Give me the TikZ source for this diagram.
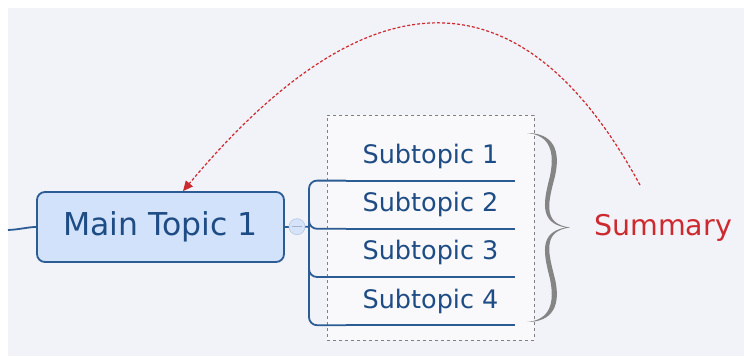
\documentclass[tikz,border=0pt]{standalone}
\usepackage{fontspec}
\setmainfont{DejaVu Sans}
\usetikzlibrary{arrows.meta,positioning,calc}
\definecolor{Canvas}{HTML}{F2F3F8}
\definecolor{Navy}{HTML}{2B5C93}
\definecolor{Ink}{HTML}{1E4C84}
\definecolor{TopicFill}{HTML}{D3E2FB}
\definecolor{KnobFill}{HTML}{D6E3F8}
\definecolor{Brace}{HTML}{858585}
\definecolor{Note}{HTML}{CC2A2E}
\tikzset{
 topic/.style={draw=Navy,fill=TopicFill,line width=1.8pt,rounded corners=8pt,minimum width=247pt,minimum height=70pt,inner sep=0pt,text=Ink,font=\fontsize{31.5}{36}\selectfont},
 subtopic/.style={text=Ink,font=\fontsize{25.5}{30}\selectfont,minimum width=169pt,minimum height=47.8pt,inner sep=0pt},
 knob/.style={circle,fill=KnobFill,draw=KnobFill!80!Navy,line width=0.6pt,minimum size=16pt,inner sep=0pt},
 branch/.style={draw=Navy,line width=1.8pt,rounded corners=8pt},
 uline/.style={draw=Navy,line width=1.8pt},
 group/.style={draw=gray,dashed,fill=white,fill opacity=0.55,line width=0.8pt,minimum width=207pt,minimum height=225pt,inner sep=0pt},
 note/.style={text=Note,font=\fontsize{28.5}{32}\selectfont,inner sep=0pt},
 relarrow/.style={-{Triangle[length=10pt,width=9pt]},draw=Note,densely dashed,line width=1.2pt}
}
\begin{document}
\begin{tikzpicture}[x=1pt,y=-1pt,node distance=0pt]
\useasboundingbox (0,0) rectangle (744,356);
\fill[white] (0,0) rectangle (744,356);
\fill[Canvas] (8,8) rectangle (744,356);
\node[group] (sumbox) at (430.5,227.5) {};
\node[topic] (main) at (160.5,227) {Main Topic 1};
\coordinate (inlet) at (8,230);
\coordinate (fork) at (309,226.7);
\node[subtopic] (s1) at (430.5,156.5) {Subtopic 1};
\node[subtopic,below=of s1] (s2) {Subtopic 2};
\node[subtopic,below=of s2] (s3) {Subtopic 3};
\node[subtopic,below=of s3] (s4) {Subtopic 4};
\draw[branch] (inlet) .. controls (20,229.5) and (28,227) .. (main.west);
\draw[branch] (main.east) -- (fork);
\foreach \s in {s1,s2,s3,s4} \draw[branch] (fork) |- (\s.south west);
\foreach \s in {s1,s2,s3,s4} \draw[uline] (\s.south west) -- (\s.south east);
\node[knob] (toggle) at (297,226.7) {};
\draw[draw=Navy!45,line width=0.8pt] ($(toggle)+(-5,0)$) -- ($(toggle)+(5,0)$);
\fill[Brace] (527,133) .. controls (553,133) and (561,150) .. (555,176) .. controls (549,200) and (541,224) .. (570,227.5)
 .. controls (541,231) and (549,255) .. (555,279) .. controls (561,305) and (553,322) .. (527,322)
 .. controls (550,320) and (555,303) .. (550,279) .. controls (544,255) and (538,232) .. (566,227.5)
 .. controls (538,223) and (544,200) .. (550,176) .. controls (555,152) and (550,135) .. (527,133) -- cycle;
\node[note] (summary) at (663,228) {Summary};
\coordinate (relstart) at (640,185);
\draw[relarrow] (relstart) .. controls (522,-32) and (368,-30) .. ($(main.north)+(22.5,0)$);
\end{tikzpicture}
\end{document}
